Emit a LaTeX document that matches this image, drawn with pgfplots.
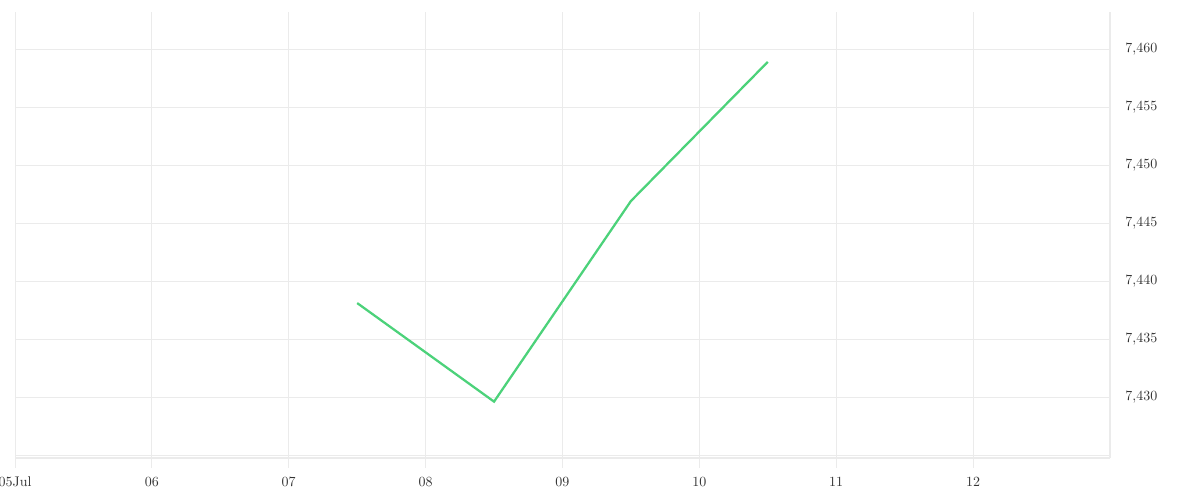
\documentclass[border=0pt]{standalone}
\usepackage{pgfplots}
\pgfplotsset{compat=1.18}
\definecolor{linegreen}{HTML}{4CD27A}
\definecolor{gridgray}{HTML}{EBEBEB}
\definecolor{txt}{HTML}{333333}
\begin{document}
\begin{tikzpicture}
\path[use as bounding box] (-11.25pt,-31.5pt) rectangle (888.75pt,343.5pt);
\begin{axis}[
  at={(0,0)}, anchor=south west,
  scale only axis,
  width=821.25pt, height=334.5pt,
  xmin=5, xmax=13,
  ymin=7424.74, ymax=7463.2,
  axis y line*=right,
  axis x line*=bottom,
  axis line style={gridgray, line width=0.8pt},
  xtick={5,6,7,8,9,10,11,12},
  xticklabels={05Jul,06,07,08,09,10,11,12},
  ytick={7430,7435,7440,7445,7450,7455,7460},
  extra y ticks={7425},
  extra y tick labels={},
  extra y tick style={grid=major, major tick length=0pt},
  yticklabel={\pgfmathprintnumber[1000 sep={,}]{\tick}},
  /pgf/number format/assume math mode=true,
  grid=major,
  major grid style={gridgray, line width=0.6pt},
  tick style={gridgray, line width=0.6pt},
  major tick length=7.5pt,
  xtick align=outside,
  ytick style={draw=none},
  ticklabel style={font=\fontsize{10.5}{12}\selectfont, text=txt},
  xticklabel style={yshift=-3pt},
  yticklabel style={xshift=8pt, anchor=west},
  clip=false,
]
\addplot[linegreen, line width=1.7pt] coordinates {
  (7.5,7438.1)
  (8.5,7429.6)
  (9.5,7446.9)
  (10.5,7458.9)
};
\end{axis}
% left edge line at 05
\end{tikzpicture}
\end{document}
